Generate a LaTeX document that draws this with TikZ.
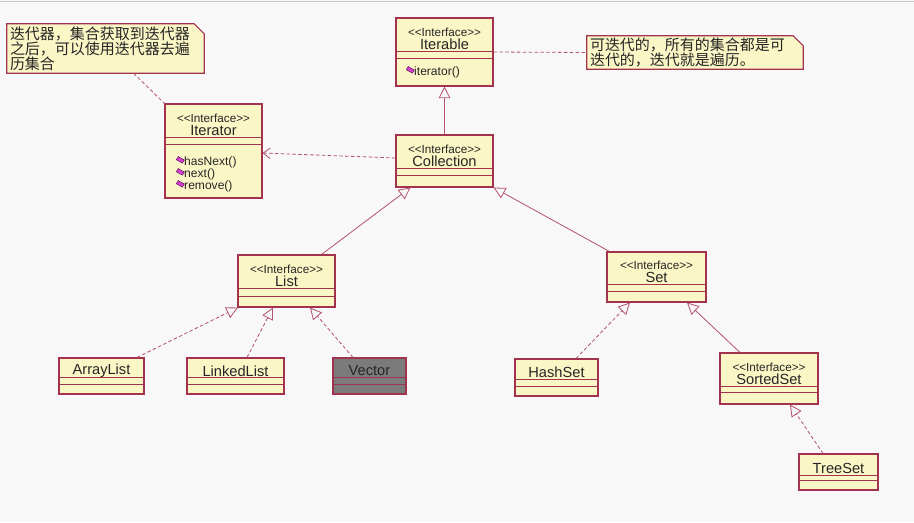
\documentclass[tikz,border=0pt]{standalone}
\usepackage{fontspec}
\setmainfont{Liberation Sans}
\newfontfamily\cjk{Noto Sans CJK SC}
\usepackage{tikz}
\usetikzlibrary{arrows.meta, positioning, calc}
\definecolor{fondo}{HTML}{F8F8F8}
\definecolor{cream}{HTML}{FBF6C6}
\definecolor{maroon}{HTML}{A3324F}
\definecolor{rosy}{HTML}{B4546E}
\definecolor{ink}{HTML}{252525}
\definecolor{pane}{HTML}{7B7B7B}
\definecolor{opviolet}{HTML}{D43FD0}
\newdimen\px \px=0.03cm
\newcommand{\ifacetag}{{\fontsize{10}{10}\selectfont <\kern0pt<Interface>\kern0pt>}}
\tikzset{
  cls/.style={draw=maroon, fill=cream, line width=0.9pt, inner sep=0pt},
  vec/.style={cls, fill=pane},
  title/.style={text=ink, align=center, inner sep=0pt, font=\fontsize{12.5}{13}\selectfont},
  op/.style={text=ink, anchor=west, inner sep=0pt, font=\fontsize{10.3}{10}\selectfont,
             label={[opmark, label distance=0.5pt]left:{}}},
  opmark/.style={draw=violet!50!black, fill=opviolet, rotate=-30, minimum width=6pt,
                 minimum height=3.2pt, inner sep=0pt, line width=0.3pt},
  note/.style={fill=cream, inner xsep=3\px, inner ysep=0pt,
               align=left, text=ink, font=\cjk\fontsize{12.8}{13}\selectfont},
  notecut/.style={fill=fondo},
  noteedge/.style={draw=maroon, line width=0.9pt},
  sep/.style={draw=maroon, line width=0.9pt},
  gen/.style={draw=rosy, line width=0.7pt, -{Triangle[open, length=10pt, width=10pt]}},
  real/.style={gen, dash pattern=on 3pt off 2pt},
  dep/.style={draw=rosy, line width=0.7pt, dash pattern=on 3pt off 2pt, -{Straight Barb[length=6pt, width=9pt]}},
  link/.style={draw=rosy, line width=0.7pt, dash pattern=on 3pt off 2pt},
}
\begin{document}
\begin{tikzpicture}[x=0.03cm, y=-0.03cm]
  \useasboundingbox (0,0) rectangle (914,522);
  \fill[fondo] (0,0) rectangle (914,522);
  \draw[gray!45, line width=1\px] (0,1.5) -- (914,1.5);

  \node[note, minimum width=197\px, minimum height=49\px, text width=191\px] (note1) at (105.5,48.5)
    {迭代器，集合获取到迭代器\\之后，可以使用迭代器去遍\\历集合};
  \node[note, minimum width=216\px, minimum height=33\px, text width=210\px] (note2) at (695,52.5)
    {可迭代的，所有的集合都是可\\迭代的，迭代就是遍历。};
  \foreach \n in {note1, note2} {
    \fill[notecut] ([xshift=-10\px]\n.north east) -- (\n.north east) -- ([yshift=-10\px]\n.north east) -- cycle;
    \draw[noteedge] (\n.north west) -- ([xshift=-10\px]\n.north east) -- ([yshift=-10\px]\n.north east)
      -- (\n.south east) -- (\n.south west) -- cycle;
  }

  \node[cls, minimum width=97\px, minimum height=68\px] (iterable) at (444.5,52) {};
  \node[cls, minimum width=97\px, minimum height=94\px] (iterator) at (213.5,151) {};
  \node[cls, minimum width=97\px, minimum height=52\px] (collection) at (444.5,161) {};
  \node[cls, minimum width=97\px, minimum height=52\px] (list) at (286.5,281) {};
  \node[cls, minimum width=99\px, minimum height=50\px] (set) at (656.5,277) {};
  \node[cls, minimum width=98\px, minimum height=51\px] (sortedset) at (769,378.5) {};
  \node[cls, minimum width=85\px, minimum height=36\px] (arraylist) at (101.5,376) {};
  \node[cls, minimum width=97\px, minimum height=36\px] (linkedlist) at (235.5,376) {};
  \node[vec, minimum width=73\px, minimum height=36\px] (vector) at (369.5,376) {};
  \node[cls, minimum width=83\px, minimum height=37\px] (hashset) at (556.5,377.5) {};
  \node[cls, minimum width=79\px, minimum height=36\px] (treeset) at (838.5,472) {};

  \foreach \n/\a/\b in {iterable/34/41, iterator/34/41, collection/34/41, list/34/42, set/33/40,
                        sortedset/34/40, arraylist/20/27, linkedlist/20/27, vector/20/27,
                        hashset/21/28, treeset/22/27}
    \draw[sep] ([yshift=-\a\px]\n.north west) -- ([yshift=-\a\px]\n.north east)
               ([yshift=-\b\px]\n.north west) -- ([yshift=-\b\px]\n.north east);

  \node[title] (iterable-t) at ([yshift=-21\px]iterable.north) {\ifacetag\\[-2pt]Iterable};
  \node[title] (iterator-t) at ([yshift=-21\px]iterator.north) {\ifacetag\\[-2pt]Iterator};
  \node[title] (collection-t) at ([yshift=-21\px]collection.north) {\ifacetag\\[-2pt]Collection};
  \node[title] (list-t) at ([yshift=-21\px]list.north) {\ifacetag\\[-2pt]List};
  \node[title] (set-t) at ([yshift=-20.5\px]set.north) {\ifacetag\\[-2pt]Set};
  \node[title] (sortedset-t) at ([yshift=-21\px]sortedset.north) {\ifacetag\\[-2pt]SortedSet};
  \node[title] (arraylist-t) at ([yshift=-13.5\px]arraylist.north) {ArrayList};
  \node[title] (linkedlist-t) at ([yshift=-13.5\px]linkedlist.north) {LinkedList};
  \node[title] (vector-t) at ([yshift=-13.5\px]vector.north) {Vector};
  \node[title] (hashset-t) at ([yshift=-14\px]hashset.north) {HashSet};
  \node[title] (treeset-t) at ([yshift=-14.5\px]treeset.north) {TreeSet};

  \node[op] (iter-op) at (414,72) {iterator()};
  \node[op] (hasnext-op) at (184,162) {hasNext()};
  \node[op] (next-op) at (184,174) {next()};
  \node[op] (remove-op) at (184,186) {remove()};

  \draw[gen] (collection.north) -- (iterable.south);
  \draw[dep] ([yshift=3\px]collection.west) -- ([yshift=-2\px]iterator.east);
  \draw[link] ([xshift=28\px]note1.south) -- (iterator.north west);
  \draw[link] (iterable.east) -- (note2.west);
  \draw[gen] ([xshift=35\px]list.north) -- ([xshift=-34\px]collection.south);
  \draw[gen] ([xshift=3\px]set.north west) -- (collection.south east);
  \draw[gen] ([xshift=-29\px]sortedset.north) -- ([xshift=30.5\px]set.south);
  \foreach \from/\fx/\to/\tx in {arraylist/35.5/list/-48.5, linkedlist/11.5/list/-13.5,
                                 vector/-16.5/list/23.5, hashset/19.5/set/-26.5,
                                 treeset/-15.5/sortedset/21}
    \draw[real] ([xshift=\fx\px]\from.north) -- ([xshift=\tx\px]\to.south);
\end{tikzpicture}
\end{document}
